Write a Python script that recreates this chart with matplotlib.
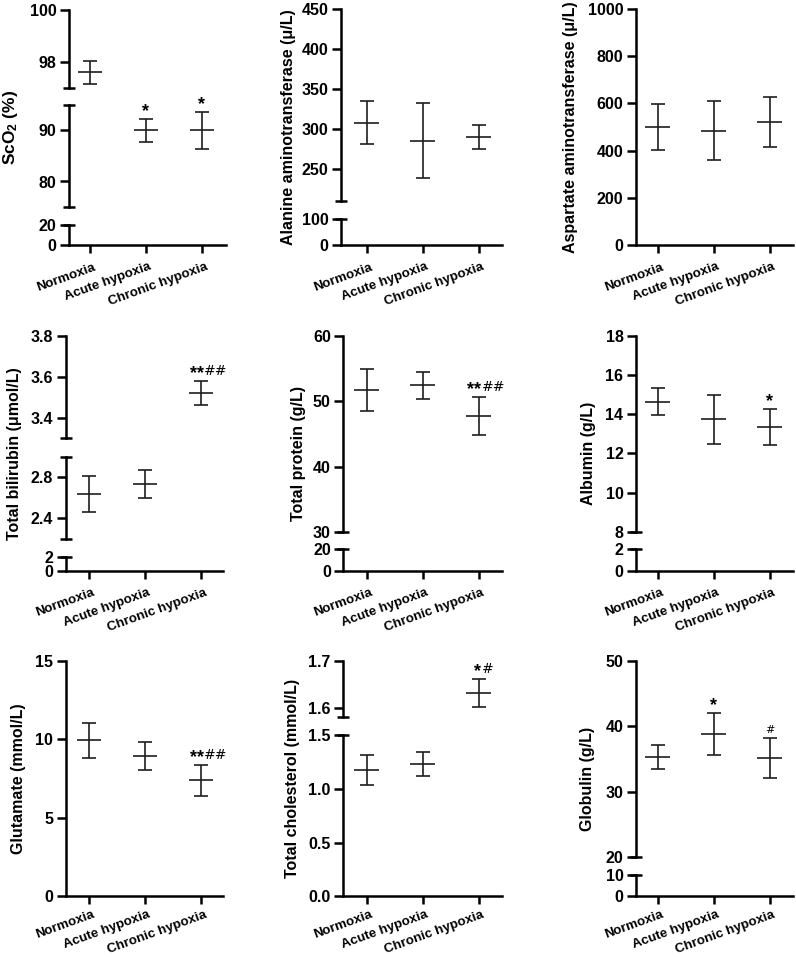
import matplotlib
matplotlib.use("Agg")
import matplotlib.pyplot as plt
from matplotlib.transforms import ScaledTranslation

plt.rcParams['font.family'] = ['Liberation Sans', 'DejaVu Sans']
plt.rcParams['font.weight'] = 'bold'
plt.rcParams['mathtext.default'] = 'regular'

# ---------------- data ----------------
groups = ["Normoxia", "Acute hypoxia", "Chronic hypoxia"]

sco2_mean = [97.6, 90.0, 90.0]
sco2_sd = [0.45, 2.3, 3.7]
sco2_star = ["", "*", "*"]
sco2_hash = ["", "", ""]

alt_mean = [307.5, 285.0, 290.0]
alt_sd = [27.0, 47.0, 15.0]
alt_star = ["", "", ""]
alt_hash = ["", "", ""]

ast_mean = [500.0, 485.0, 521.0]
ast_sd = [97.0, 124.0, 105.0]
ast_star = ["", "", ""]
ast_hash = ["", "", ""]

tbil_mean = [2.635, 2.735, 3.52]
tbil_sd = [0.175, 0.14, 0.06]
tbil_star = ["", "", "**"]
tbil_hash = ["", "", "##"]

tp_mean = [51.7, 52.4, 47.8]
tp_sd = [3.2, 2.0, 2.9]
tp_star = ["", "", "**"]
tp_hash = ["", "", "##"]

alb_mean = [14.64, 13.74, 13.35]
alb_sd = [0.68, 1.25, 0.92]
alb_star = ["", "", "*"]
alb_hash = ["", "", ""]

glu_mean = [9.94, 8.94, 7.39]
glu_sd = [1.11, 0.91, 1.0]
glu_star = ["", "", "**"]
glu_hash = ["", "", "##"]

tc_mean = [1.18, 1.233, 1.631]
tc_sd = [0.14, 0.11, 0.03]
tc_star = ["", "", "*"]
tc_hash = ["", "", "#"]

glob_mean = [35.3, 38.8, 35.1]
glob_sd = [1.8, 3.25, 3.05]
glob_star = ["", "*", ""]
glob_hash = ["", "", "#"]

ylabels = ["ScO$_2$ (%)", "Alanine aminotransferase (\u03bc/L)", "Aspartate aminotransferase (\u03bc/L)",
           "Total bilirubin (\u03bcmol/L)", "Total protein (g/L)", "Albumin (g/L)",
           "Glutamate (mmol/L)", "Total cholesterol (mmol/L)", "Globulin (g/L)"]

# axis segments (value ranges) and labelled ticks, per panel
seg_ranges = [
    [(97, 100), (75, 95), (0, 20)],
    [(210, 450), (0, 100)],
    [(0, 1000)],
    [(3.3, 3.8), (2.2, 3.0), (0, 2)],
    [(30, 60), (0, 20)],
    [(8, 18), (0, 2)],
    [(0, 15)],
    [(1.58, 1.7), (0, 1.5)],
    [(20, 50), (0, 10)],
]
seg_ticks = [
    [[98, 100], [80, 90], [0, 20]],
    [[250, 300, 350, 400, 450], [0, 100]],
    [[0, 200, 400, 600, 800, 1000]],
    [[3.4, 3.6, 3.8], [2.4, 2.8], [0, 2]],
    [[30, 40, 50, 60], [0, 20]],
    [[8, 10, 12, 14, 16, 18], [0, 2]],
    [[0, 5, 10, 15]],
    [[1.6, 1.7], [0.0, 0.5, 1.0, 1.5]],
    [[20, 30, 40, 50], [0, 10]],
]
tick_fmt = ["{:g}"] * 7 + ["{:.1f}", "{:g}"]

means = [sco2_mean, alt_mean, ast_mean, tbil_mean, tp_mean, alb_mean, glu_mean, tc_mean, glob_mean]
sds = [sco2_sd, alt_sd, ast_sd, tbil_sd, tp_sd, alb_sd, glu_sd, tc_sd, glob_sd]
stars = [sco2_star, alt_star, ast_star, tbil_star, tp_star, alb_star, glu_star, tc_star, glob_star]
hashes = [sco2_hash, alt_hash, ast_hash, tbil_hash, tp_hash, alb_hash, glu_hash, tc_hash, glob_hash]

# ---------------- layout (pixels) ----------------
W, H = 796, 957
layout = [
    dict(left=69, right=226, cat0=90, segs=[(10, 88), (105, 207), (225, 245)], lab_x=10, xpad=5.5),
    dict(left=341, right=501.7, cat0=366.7, segs=[(9, 200.7), (219, 245)], lab_x=288, xpad=5.5),
    dict(left=636, right=793, cat0=657.7, segs=[(9, 245)], lab_x=570, xpad=5.5),
    dict(left=65.7, right=223.3, cat0=89, segs=[(335.7, 438.3), (456.7, 539), (556.7, 570.7)], lab_x=14.5, xpad=5.5),
    dict(left=343.3, right=501.7, cat0=366.7, segs=[(335.7, 532), (549.3, 570.7)], lab_x=298, xpad=5.5),
    dict(left=636, right=793, cat0=657.7, segs=[(335.7, 531.7), (549.3, 570.7)], lab_x=588, xpad=5.5),
    dict(left=65.7, right=223.3, cat0=89, segs=[(660.7, 896.3)], lab_x=19, xpad=3.0),
    dict(left=343.3, right=501.7, cat0=366.7, segs=[(660.7, 717), (735.3, 896.3)], lab_x=292.5, xpad=3.0),
    dict(left=636, right=793, cat0=657.7, segs=[(660.7, 857), (875, 896.3)], lab_x=587.5, xpad=3.0),
]
SPACING = 56.0
LW_AX = 1.8
LW_EB = 1.2
EB_COLOR = "#1e1e1e"
MEAN_HW = 0.22
CAP_HW = 0.125

fig = plt.figure(figsize=(W / 100, H / 100), dpi=100)
label_shift = ScaledTranslation(3 / 100, 0, fig.dpi_scale_trans)

xpos = list(range(len(groups)))

for p in range(9):
    L = layout[p]
    xlo = -(L['cat0'] - L['left']) / SPACING
    xhi = 2 + (L['right'] - (L['cat0'] + 2 * SPACING)) / SPACING
    nseg = len(L['segs'])
    for s, ((top, bot), (ylo, yhi), ticks) in enumerate(zip(L['segs'], seg_ranges[p], seg_ticks[p])):
        ax = fig.add_axes([L['left'] / W, 1 - bot / H, (L['right'] - L['left']) / W, (bot - top) / H])
        ax.set_xlim(xlo, xhi)
        ax.set_ylim(ylo, yhi)
        ax.patch.set_alpha(0)
        for sp in ['top', 'right']:
            ax.spines[sp].set_visible(False)
        ax.spines['left'].set_linewidth(LW_AX)
        ax.spines['bottom'].set_linewidth(LW_AX)
        is_bottom = (s == nseg - 1)
        if not is_bottom:
            ax.spines['bottom'].set_visible(False)
            ax.set_xticks([])
        else:
            ax.set_xticks(xpos)
            ax.set_xticklabels(groups, rotation=20, ha='right', rotation_mode='anchor',
                               fontsize=9.6, fontweight='bold')
            ax.tick_params(axis='x', direction='out', length=6, width=LW_AX, pad=L['xpad'])
            for lab in ax.get_xticklabels():
                lab.set_transform(lab.get_transform() + label_shift)
        ax.set_yticks(ticks)
        ax.set_yticklabels([tick_fmt[p].format(t) for t in ticks], fontsize=11.5, fontweight='bold')
        ax.tick_params(axis='y', which='major', direction='out', length=6.5, width=LW_AX, pad=2.5)
        # break marks at segment ends
        brk = []
        if s > 0:
            brk.append(yhi)
        if not is_bottom:
            brk.append(ylo)
        ax.yaxis.remove_overlapping_locs = False
        ax.set_yticks(brk, minor=True)
        ax.tick_params(axis='y', which='minor', direction='inout', length=8, width=LW_AX)

        # error bars
        m = means[p]
        sd = sds[p]
        lo = [a - b for a, b in zip(m, sd)]
        hi = [a + b for a, b in zip(m, sd)]
        ax.vlines(xpos, lo, hi, color=EB_COLOR, lw=LW_EB)
        ax.hlines(m, [x - MEAN_HW for x in xpos], [x + MEAN_HW for x in xpos], color=EB_COLOR, lw=LW_EB)
        ax.hlines(lo, [x - CAP_HW for x in xpos], [x + CAP_HW for x in xpos], color=EB_COLOR, lw=LW_EB)
        ax.hlines(hi, [x - CAP_HW for x in xpos], [x + CAP_HW for x in xpos], color=EB_COLOR, lw=LW_EB)

        # significance marks
        for i in xpos:
            if not (ylo <= hi[i] <= yhi):
                continue
            st = stars[p][i]
            hs = hashes[p][i]
            if st and hs:
                ax.annotate(st, xy=(i, hi[i]), xytext=(2, -1), textcoords='offset points',
                            ha='right', va='bottom', fontsize=13, fontweight='bold')
                ax.annotate(hs, xy=(i, hi[i]), xytext=(2, 2), textcoords='offset points',
                            ha='left', va='bottom', fontsize=10, fontweight='normal',
                            family=['DejaVu Sans'])
            elif st:
                ax.annotate(st, xy=(i, hi[i]), xytext=(0, -1), textcoords='offset points',
                            ha='center', va='bottom', fontsize=13, fontweight='bold')
            elif hs:
                ax.annotate(hs, xy=(i, hi[i]), xytext=(0, 2), textcoords='offset points',
                            ha='center', va='bottom', fontsize=8, fontweight='normal',
                            family=['DejaVu Sans'])

    ytop = L['segs'][0][0]
    ybot = L['segs'][-1][1]
    fs = 12.5 if p == 0 else 11.5
    fig.text(L['lab_x'] / W, 1 - (ytop + ybot) / 2 / H, ylabels[p], rotation=90,
             ha='center', va='center', fontsize=fs, fontweight='bold')

fig.savefig("out.png", dpi=100)
